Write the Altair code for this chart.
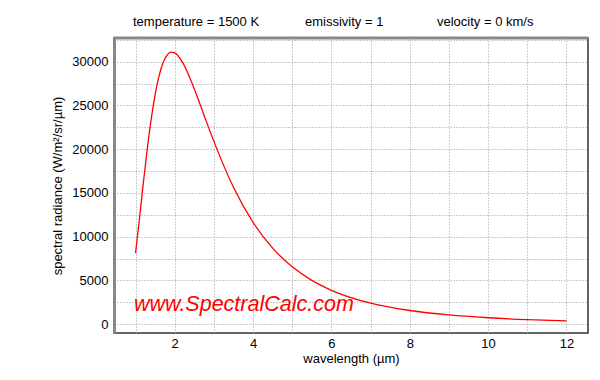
import altair as alt
import pandas as pd

# wavelength (µm) and spectral radiance (W/m²/sr/µm)
wavelength = [1.0, 1.1, 1.2, 1.3, 1.4, 1.5, 1.6, 1.7, 1.8, 1.9, 2.0, 2.2, 2.4, 2.6, 2.8,
              3.0, 3.5, 4.0, 4.5, 5.0, 5.5, 6.0, 7.0, 8.0, 9.0, 10.0, 11.0, 12.0]
radiance = [8130, 12080, 16180, 20060, 23460, 26240, 28370, 29850, 30720, 31090, 31010,
            29910, 27990, 25700, 23260, 20890, 15640, 11630, 8690, 6560, 5010, 3880,
            2410, 1570, 1060, 740, 530, 390]

header_texts = ["temperature = 1500 K", "emissivity = 1", "velocity = 0 km/s"]
watermark = "www.SpectralCalc.com"

x_grid = list(range(1, 13))
y_grid = list(range(0, 32501, 2500))

FONT = "Liberation Sans"
W, H = 474, 295

df = pd.DataFrame({"wavelength": wavelength, "radiance": radiance})

line = alt.Chart(df).mark_line(color="#ff0000", strokeWidth=1.3, interpolate="monotone").encode(
    x=alt.X("wavelength:Q",
            scale=alt.Scale(domain=[0.45, 12.55], nice=False, zero=False),
            axis=alt.Axis(values=x_grid, labelExpr="datum.value % 2 == 0 ? datum.label : ''",
                          title="wavelength (µm)", ticks=False, domain=False,
                          labelPadding=4, titlePadding=2,
                          grid=True, gridColor="#999", gridDash=[1, 2], gridWidth=1)),
    y=alt.Y("radiance:Q",
            scale=alt.Scale(domain=[-1000, 32700], nice=False, zero=False),
            axis=alt.Axis(values=y_grid, labelExpr="datum.value % 5000 == 0 ? datum.label : ''",
                          format="d",
                          title="spectral radiance (W/m²/sr/µm)", ticks=False,
                          domain=True, domainColor="#888", domainWidth=3,
                          labelPadding=6, titleX=-50, titleY=H / 2,
                          grid=True, gridColor="#999", gridDash=[1, 2], gridWidth=1)),
)

top_rule = alt.Chart(pd.DataFrame({"a": [0]})).mark_rule(color="#888", strokeWidth=3).encode(
    x=alt.value(0), x2=alt.value(W), y=alt.value(0)
)

hdr = pd.DataFrame({"t": header_texts, "px": [19, 191, 323]})
headers = alt.Chart(hdr).mark_text(align="left", baseline="middle", fontSize=13,
                                   font=FONT, color="black").encode(
    x=alt.X("px:Q", scale=None), y=alt.value(-16), text="t:N"
)

wm = alt.Chart(pd.DataFrame({"t": [watermark]})).mark_text(
    align="left", baseline="alphabetic", fontSize=21.5, fontStyle="italic",
    font=FONT, color="#ff0000").encode(
    x=alt.value(20), y=alt.value(273), text="t:N"
)

chart = alt.layer(line, top_rule, headers, wm).properties(
    width=W, height=H,
    autosize=alt.AutoSizeParams(type="none"),
    padding={"left": 106, "top": 30, "right": 4, "bottom": 38},
).configure_view(stroke="#333", strokeWidth=1.5).configure_axis(
    labelFont=FONT, titleFont=FONT, labelFontSize=13, titleFontSize=13,
    labelColor="black", titleColor="black", titleFontWeight="normal"
)

chart.save("out.html", embed_options={"renderer": "svg", "actions": False})
